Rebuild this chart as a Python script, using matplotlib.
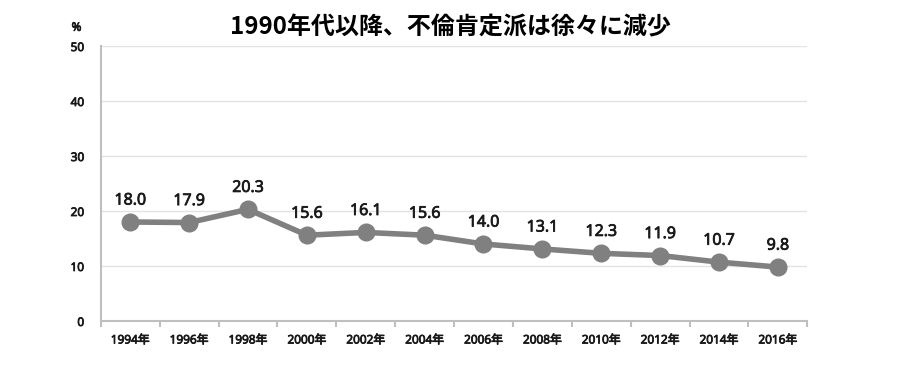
import matplotlib
matplotlib.use('Agg')
import matplotlib.pyplot as plt
import matplotlib.patheffects as pe
import numpy as np

plt.rcParams['font.family'] = ['Open Sans', 'Noto Sans CJK JP', 'DejaVu Sans']

years = ['1994年', '1996年', '1998年', '2000年', '2002年', '2004年',
         '2006年', '2008年', '2010年', '2012年', '2014年', '2016年']
values = [18.0, 17.9, 20.3, 15.6, 16.1, 15.6, 14.0, 13.1, 12.3, 11.9, 10.7, 9.8]
yticks = [0, 10, 20, 30, 40, 50]

# 用細描邊模擬半粗體
semi = [pe.withStroke(linewidth=0.6, foreground='#1a1a1a')]

fig = plt.figure(figsize=(9, 3.9), dpi=100)
ax = fig.add_axes([0.112, 0.177, 0.785, 0.705])

x = np.arange(len(years))
ax.plot(x, values, color='#808080', linewidth=4, marker='o', markersize=12,
        solid_capstyle='round', zorder=3)
for a, b in zip(x, values):
    ax.text(a, b + 3.9, f'{b:.1f}', ha='center', va='center', fontsize=11.5,
            color='#1a1a1a', path_effects=semi)

ax.set_xlim(-0.5, len(years) - 0.5)
ax.set_ylim(0, 50)
ax.set_yticks(yticks)
ax.set_xticks(x)
ax.set_xticklabels(years, fontsize=8.5, color='#1a1a1a')
ax.set_xticks(np.arange(-0.5, len(years)), minor=True)
ax.tick_params(axis='x', which='major', length=0, pad=9)
ax.tick_params(axis='x', which='minor', length=4, color='#bfbfbf', width=1.5)
ax.tick_params(axis='y', length=0, pad=12, labelsize=8.5, labelcolor='#1a1a1a')
for lab in ax.get_xticklabels() + ax.get_yticklabels():
    lab.set_path_effects(semi)

ax.grid(axis='y', color='#e3e3e3', linewidth=1)
ax.set_axisbelow(True)
for s in ['top', 'right']:
    ax.spines[s].set_visible(False)
for s in ['left', 'bottom']:
    ax.spines[s].set_color('#bfbfbf')
    ax.spines[s].set_linewidth(1.5)

fig.text(0.5, 0.93, '1990年代以降、不倫肯定派は徐々に減少', ha='center', va='center',
         fontsize=17.3, fontweight='bold', family=['Noto Sans CJK JP', 'DejaVu Sans'])
fig.text(0.085, 0.93, '%', ha='center', va='center', fontsize=8.5, color='#1a1a1a',
         path_effects=semi)

fig.savefig('out.png', dpi=100)
